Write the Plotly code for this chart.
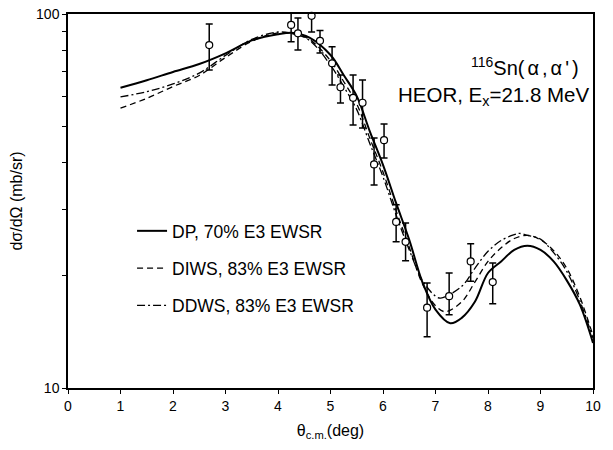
import plotly.graph_objects as go

# Experimental data: angle (deg), cross section (mb/sr), upper / lower error-bar ends
theta_exp = [2.69, 4.25, 4.38, 4.64, 4.80, 5.03, 5.19, 5.43, 5.61, 5.83, 6.02, 6.25, 6.43, 6.84, 7.26, 7.67, 8.09]
sigma_exp = [82.6, 93.5, 88.8, 98.9, 84.8, 73.8, 63.7, 59.7, 57.9, 39.6, 46.0, 27.8, 24.6, 16.4, 17.6, 21.8, 19.2]
sigma_hi = [94.0, 102.0, 97.5, 106.0, 90.4, 81.8, 68.7, 68.7, 66.6, 46.6, 50.8, 30.9, 27.6, 19.1, 20.3, 24.3, 21.6]
sigma_lo = [70.8, 84.3, 80.1, 89.5, 78.7, 64.6, 57.8, 50.5, 49.6, 34.9, 41.2, 24.6, 21.9, 13.7, 15.7, 19.3, 16.8]

# DP, 70% E3 EWSR (solid)
theta_dp = [1.0, 1.5, 2.0, 2.5, 3.0, 3.5, 4.0, 4.3, 4.6, 5.0, 5.25, 5.5, 5.75, 6.0, 6.25, 6.5, 6.75, 7.0, 7.28, 7.5, 7.75, 8.0, 8.25, 8.5, 8.75, 9.0, 9.25, 9.5, 9.75, 10.0]
sigma_dp = [63.5, 66.5, 70.0, 73.5, 78.5, 85.0, 88.3, 89.0, 86.5, 77.7, 68.7, 60.3, 48.5, 39.5, 31.2, 24.9, 19.2, 16.2, 14.9, 15.4, 17.0, 20.3, 21.8, 23.4, 24.0, 23.4, 21.8, 19.4, 16.7, 13.2]

# DIWS, 83% E3 EWSR (dashed)
theta_diws = [1.0, 1.5, 2.0, 2.5, 3.0, 3.5, 4.0, 4.3, 4.6, 5.0, 5.25, 5.5, 5.75, 6.0, 6.25, 6.5, 6.75, 7.0, 7.18, 7.5, 7.75, 8.0, 8.25, 8.5, 8.75, 9.0, 9.25, 9.5, 9.75, 10.0]
sigma_diws = [56.0, 59.5, 64.0, 68.5, 76.5, 84.5, 89.0, 88.5, 85.5, 75.0, 66.0, 57.5, 46.5, 37.8, 29.8, 23.8, 19.0, 16.6, 16.0, 17.0, 19.2, 21.8, 23.7, 25.1, 25.6, 24.9, 23.3, 20.9, 17.5, 13.8]

# DDWS, 83% E3 EWSR (dash-dot)
theta_ddws = [1.0, 1.5, 2.0, 2.5, 3.0, 3.5, 4.0, 4.3, 4.6, 5.0, 5.25, 5.5, 5.75, 6.0, 6.25, 6.5, 6.75, 7.0, 7.1, 7.5, 7.75, 8.0, 8.25, 8.5, 8.6, 8.75, 9.0, 9.25, 9.5, 9.75, 10.0]
sigma_ddws = [60.0, 62.0, 65.0, 69.5, 77.5, 85.5, 89.5, 88.5, 85.0, 73.0, 64.0, 55.5, 45.0, 36.7, 29.0, 23.4, 19.4, 17.6, 17.4, 18.7, 20.9, 23.2, 24.8, 25.7, 25.9, 25.6, 25.0, 23.0, 20.5, 17.1, 13.6]

x_ticks = [0, 1, 2, 3, 4, 5, 6, 7, 8, 9, 10]
y_ticks = [10, 20, 30, 40, 50, 60, 70, 80, 90, 100]
y_ticktext = ["10", "", "", "", "", "", "", "", "", "100"]

FONT = "Liberation Sans, Arial, sans-serif"

fig = go.Figure()
fig.add_trace(go.Scatter(x=theta_dp, y=sigma_dp, mode="lines", name="DP, 70% E3 EWSR",
                         line=dict(color="black", width=2, shape="spline"), legendgroup="a"))
fig.add_trace(go.Scatter(x=theta_diws, y=sigma_diws, mode="lines", name="DIWS, 83% E3 EWSR",
                         line=dict(color="black", width=1.3, dash="6px,4px", shape="spline"), legendgroup="b"))
fig.add_trace(go.Scatter(x=theta_ddws, y=sigma_ddws, mode="lines", name="DDWS, 83% E3 EWSR",
                         line=dict(color="black", width=1.3, dash="8px,3px,2px,3px", shape="spline"), legendgroup="c"))
fig.add_trace(go.Scatter(
    x=theta_exp, y=sigma_exp, mode="markers", showlegend=False, cliponaxis=False,
    marker=dict(symbol="circle", size=7, color="white", line=dict(color="black", width=1.2)),
    error_y=dict(type="data", symmetric=False,
                 array=[h - v for h, v in zip(sigma_hi, sigma_exp)],
                 arrayminus=[v - l for v, l in zip(sigma_exp, sigma_lo)],
                 color="black", thickness=1.5, width=3.5)))

fig.add_annotation(text="<sup>116</sup>Sn<span style=\"letter-spacing:3px\">(α,α')</span>",
                   xref="paper", yref="paper", x=0.982, y=0.822,
                   xanchor="right", yanchor="bottom", showarrow=False,
                   font=dict(size=20, family=FONT, color="black"))
fig.add_annotation(text="HEOR, E<sub>x</sub>=21.8 MeV", xref="paper", yref="paper", x=0.999, y=0.822,
                   xanchor="right", yanchor="top", showarrow=False,
                   font=dict(size=20.5, family=FONT, color="black"))

fig.update_layout(
    width=605, height=442,
    margin=dict(l=60, r=20, t=6, b=62, autoexpand=False),
    paper_bgcolor="white", plot_bgcolor="white",
    font=dict(family=FONT, size=14, color="black"),
    showlegend=True,
    legend=dict(x=0.122, y=0.468, xanchor="left", yanchor="top", bgcolor="rgba(0,0,0,0)",
                font=dict(size=17.5, family=FONT), tracegroupgap=11.5, itemwidth=30),
    xaxis=dict(range=[0, 10], tickvals=x_ticks, ticktext=[str(t) for t in x_ticks],
               ticks="outside", ticklen=4, tickwidth=1, tickcolor="black",
               showline=True, linecolor="black", linewidth=1.5, mirror=True,
               showgrid=False, zeroline=False, automargin=False, ticklabeloverflow="allow",
               title=dict(text="θ<sub>c.m.</sub>(deg)", font=dict(size=16), standoff=12)),
    yaxis=dict(type="log", range=[1, 2], tickvals=y_ticks, ticktext=y_ticktext,
               ticks="outside", ticklen=4, tickwidth=1, tickcolor="black",
               showline=True, linecolor="black", linewidth=1.5, mirror=True,
               showgrid=False, zeroline=False, automargin=False, ticklabeloverflow="allow",
               title=dict(text="dσ/dΩ (mb/sr)", font=dict(size=16), standoff=10)),
)

fig.write_html("out.html")
